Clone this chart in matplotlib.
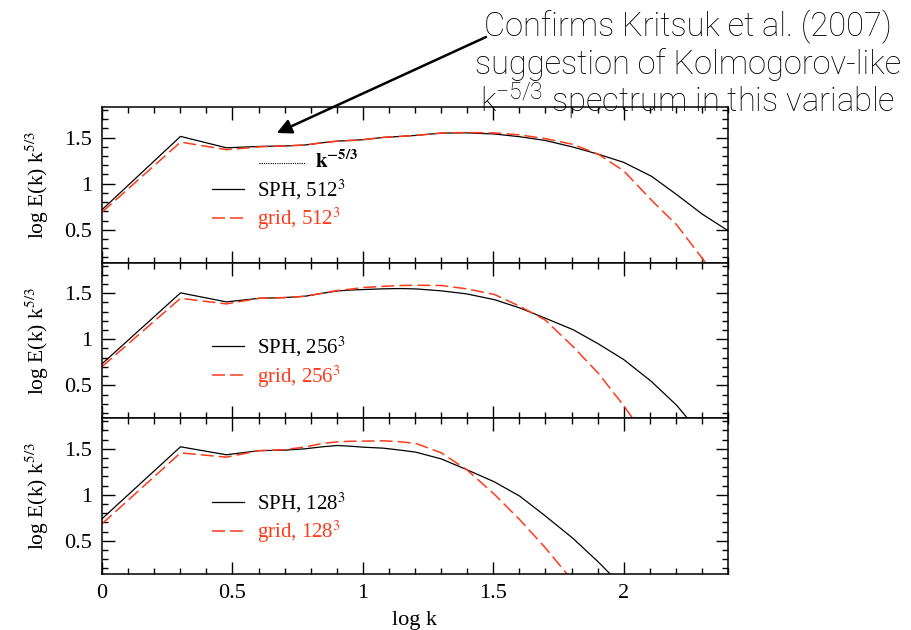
import matplotlib
matplotlib.use("Agg")
import matplotlib.pyplot as plt
from matplotlib.ticker import MultipleLocator, FormatStrFormatter
import numpy as np

plt.rcParams["font.family"] = ["Liberation Serif", "DejaVu Serif"]
plt.rcParams["mathtext.fontset"] = "stix"

# log k sample points (k = 1..10, then coarser)
logk = [0.0, 0.301, 0.477, 0.602, 0.699, 0.778, 0.845, 0.903, 0.954, 1.0,
        1.079, 1.146, 1.204, 1.301, 1.398, 1.505, 1.602, 1.699, 1.806,
        1.903, 2.0, 2.107, 2.204, 2.301, 2.4]

# compensated spectra, log E(k) k^(5/3)
sph_512 = [0.717, 1.514, 1.39, 1.405, 1.41, 1.42, 1.445, 1.463, 1.47, 1.478,
           1.503, 1.514, 1.525, 1.55, 1.552, 1.54, 1.51, 1.47, 1.398,
           1.32, 1.232, 1.08, 0.88, 0.67, 0.49]
grid_512 = [0.69, 1.452, 1.37, 1.40, 1.41, 1.42, 1.445, 1.463, 1.47, 1.478,
            1.503, 1.514, 1.525, 1.55, 1.556, 1.552, 1.53, 1.49, 1.427,
            1.32, 1.14, 0.82, 0.55, 0.19, -0.2]
sph_256 = [0.733, 1.504, 1.406, 1.445, 1.453, 1.467, 1.50, 1.525, 1.535, 1.54,
           1.548, 1.551, 1.547, 1.526, 1.493, 1.43, 1.34, 1.23, 1.104,
           0.95, 0.78, 0.54, 0.28, -0.05, -0.4]
grid_256 = [0.703, 1.445, 1.384, 1.445, 1.453, 1.467, 1.50, 1.53, 1.545, 1.562,
            1.575, 1.584, 1.587, 1.584, 1.548, 1.486, 1.358, 1.21, 0.92,
            0.63, 0.28, -0.15, -0.55, -0.95, -1.35]
sph_128 = [0.74, 1.522, 1.435, 1.48, 1.485, 1.50, 1.522, 1.536, 1.528, 1.518,
           1.507, 1.485, 1.463, 1.39, 1.274, 1.14, 0.985, 0.772, 0.526,
           0.27, -0.01, -0.35, -0.7, -1.05, -1.4]
grid_128 = [0.685, 1.456, 1.409, 1.48, 1.49, 1.52, 1.558, 1.576, 1.582, 1.583,
            1.587, 1.576, 1.558, 1.456, 1.274, 1.004, 0.729, 0.427, 0.06,
            -0.3, -0.65, -1.0, -1.35, -1.7, -2.05]

resolutions = ["512", "256", "128"]
sph_sets = [sph_512, sph_256, sph_128]
grid_sets = [grid_512, grid_256, grid_128]

# Kolmogorov reference segment
kol_x = [0.6, 0.78]
kol_y = [1.224, 1.224]

RED = "#ff3a1a"

fig = plt.figure(figsize=(9.12, 6.3), dpi=100)
left, right = 102 / 912, 728 / 912
top, bottom = 1 - 107.3 / 630, 1 - 574 / 630
h = (top - bottom) / 3

axes = []
for i in range(3):
    ax = fig.add_axes([left, top - (i + 1) * h, right - left, h])
    axes.append(ax)

for i, ax in enumerate(axes):
    res = resolutions[i]
    ax.plot(logk, sph_sets[i], color="black", lw=0.9,
            label=f"SPH, {res}$^{{3}}$")
    ax.plot(logk, grid_sets[i], color=RED, lw=1.1, dashes=(8.5, 3.3),
            label=f"grid, {res}$^{{3}}$")
    ax.set_xlim(0, 2.4)
    ax.set_ylim(0.14, 1.83)
    ax.xaxis.set_major_locator(MultipleLocator(0.5))
    ax.xaxis.set_minor_locator(MultipleLocator(0.1))
    ax.yaxis.set_major_locator(MultipleLocator(0.5))
    ax.yaxis.set_minor_locator(MultipleLocator(0.1))
    ax.yaxis.set_major_formatter(FormatStrFormatter("%g"))
    ax.xaxis.set_major_formatter(FormatStrFormatter("%g"))
    ax.tick_params(which="both", direction="in", top=True, right=True,
                   labelsize=16, width=1)
    ax.tick_params(which="major", length=9, pad=7)
    ax.tick_params(which="minor", length=4.5)
    for sp in ax.spines.values():
        sp.set_linewidth(1.1)
    ax.set_ylabel(r"log E(k) k$^{5/3}$", fontsize=15.5, labelpad=10)
    if i < 2:
        ax.tick_params(labelbottom=False)
    ypos = 0.374 if i == 0 else 0.362
    ax.legend(loc="center left", bbox_to_anchor=(0.176, ypos), frameon=False,
              fontsize=15, handlelength=1.55, handletextpad=0.6,
              labelspacing=0.2, borderpad=0, borderaxespad=0,
              labelcolor="linecolor")

axes[2].set_xlabel("log k", fontsize=16, labelpad=6)

# k^-5/3 reference in the top panel
ax0 = axes[0]
ax0.plot(kol_x, kol_y, color="black", lw=0.8, ls=(0, (1, 1)))
ax0.text(0.816, 1.17, r"$\mathbf{k^{-5/3}}$", fontsize=15, va="baseline")

# annotation text and arrow
note = ["Confirms Kritsuk et al. (2007)",
        "suggestion of Kolmogorov-like",
        r"k$\mathregular{^{-5/3}}$ spectrum in this variable"]
for j, line in enumerate(note):
    fig.text(688 / 912, 1 - (36 + 38 * j) / 630, line, ha="center",
             va="baseline", fontsize=23.5, family=["Roboto", "DejaVu Sans"],
             fontweight="light")
ax0.annotate("", xy=(0.670, 1.551), xycoords="data",
             xytext=(486 / 912, 1 - 37 / 630), textcoords="figure fraction",
             arrowprops=dict(arrowstyle="-|>", color="black", lw=1.8,
                             mutation_scale=22, shrinkA=0, shrinkB=0))

fig.savefig("out.png", dpi=100)
